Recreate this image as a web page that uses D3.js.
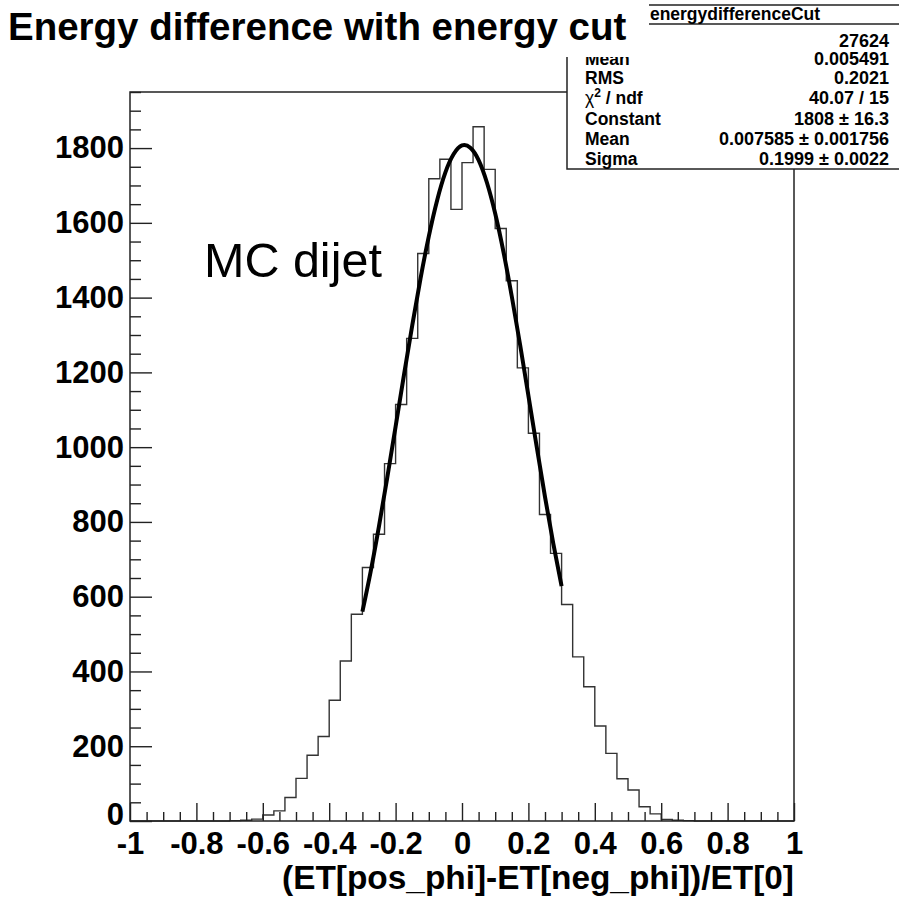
<!DOCTYPE html>
<html>
<head>
<meta charset="utf-8">
<script src="https://cdn.jsdelivr.net/npm/d3@7"></script>
<style>
  body { margin: 0; background: #fff; }
  svg { display: block; }
  text { font-family: "Liberation Sans", Arial, Helvetica, sans-serif; }
</style>
</head>
<body>
<div id="chart"></div>
<script>
const W = 899, H = 898;
const margin = {top: 92, right: 105, bottom: 77, left: 130};

// histogram definition: 60 bins from -1 to 1
const nBins = 60, xMin = -1, xMax = 1;
const counts = [0, 0, 0, 0, 0, 0, 0, 0, 0, 1,
    2, 5, 16, 27, 63, 114, 176, 226, 323, 428,
    553, 678, 767, 956, 1114, 1291, 1518, 1718, 1770, 1636,
    1761, 1857, 1743, 1585, 1445, 1212, 1037, 820, 716, 579,
    439, 359, 254, 181, 113, 83, 38, 19, 4, 2,
    1, 0, 0, 0, 0, 0, 0, 0, 0, 0];

// gaussian fit curve (-0.3 .. 0.3)
const fitX = [-0.3, -0.275, -0.25, -0.225, -0.2, -0.175, -0.15, -0.125, -0.1, -0.075, -0.05, -0.025, 0,
    0.025, 0.05, 0.075, 0.1, 0.125, 0.15, 0.175, 0.2, 0.225, 0.25, 0.275, 0.3];
const fitY = [560, 668, 789, 919, 1055, 1192, 1325, 1451, 1564, 1660, 1735, 1784, 1807,
    1801, 1768, 1708, 1625, 1522, 1403, 1274, 1138, 1001, 867, 742, 628];

const xTicks = [-1, -0.8, -0.6, -0.4, -0.2, 0, 0.2, 0.4, 0.6, 0.8, 1];
const xTickLabels = ["-1", "-0.8", "-0.6", "-0.4", "-0.2", "0", "0.2", "0.4", "0.6", "0.8", "1"];
const yTicks = [0, 200, 400, 600, 800, 1000, 1200, 1400, 1600, 1800];

const statsLabels = ["Entries", "Mean", "RMS", "chi", "Constant", "Mean", "Sigma"];
const statsValues = ["27624", "0.005491", "0.2021", "40.07 / 15", "1808 \u00b1 16.3", "0.007585 \u00b1 0.001756", "0.1999 \u00b1 0.0022"];

const svg = d3.select("#chart").append("svg")
    .attr("width", W)
    .attr("height", H);

const x = d3.scaleLinear()
    .domain([xMin, xMax])
    .range([margin.left, W - margin.right]);

const y = d3.scaleLinear()
    .domain([0, 1950])
    .range([H - margin.bottom, margin.top]);

const binW = (xMax - xMin) / nBins;
const steps = counts.map((c, i) => [xMin + i * binW, c]);
steps.push([xMax, counts[counts.length - 1]]);

// histogram outline
svg.append("path")
    .datum(steps)
    .attr("fill", "none")
    .attr("stroke", "#333")
    .attr("stroke-width", 1.4)
    .attr("d", d3.line()
        .x(d => x(d[0]))
        .y(d => y(d[1]))
        .curve(d3.curveStepAfter));

// fit
svg.append("path")
    .datum(fitX.map((v, i) => [v, fitY[i]]))
    .attr("fill", "none")
    .attr("stroke", "#000")
    .attr("stroke-width", 4)
    .attr("d", d3.line()
        .x(d => x(d[0]))
        .y(d => y(d[1]))
        .curve(d3.curveNatural));

// axes
const xMinor = d3.range(-1, 1.0001, 0.05).filter(v => Math.abs(Math.round(v * 5) - v * 5) > 1e-6);
const yMinor = d3.range(0, 1951, 50).filter(v => v % 200 !== 0);

function cleanAxis(g) {
    g.select(".domain").remove();
    g.selectAll("line").attr("stroke", "#222").attr("stroke-width", 1.4);
}

svg.append("g")
    .attr("transform", "translate(0," + y(0) + ")")
    .call(d3.axisBottom(x).tickValues(xMinor).tickSize(-9).tickFormat(""))
    .call(cleanAxis);

svg.append("g")
    .attr("transform", "translate(0," + y(0) + ")")
    .call(d3.axisBottom(x).tickValues(xTicks).tickSize(-18).tickPadding(11)
        .tickFormat((d, i) => xTickLabels[i]))
    .call(cleanAxis)
    .selectAll("text")
    .attr("fill", "#000")
    .attr("font-size", "31px")
    .attr("font-weight", "bold");

svg.append("g")
    .attr("transform", "translate(" + x(-1) + ",0)")
    .call(d3.axisLeft(y).tickValues(yMinor).tickSize(-11).tickFormat(""))
    .call(cleanAxis);

svg.append("g")
    .attr("transform", "translate(" + x(-1) + ",0)")
    .call(d3.axisLeft(y).tickValues(yTicks).tickSize(-22).tickPadding(6).tickFormat(d3.format("d")))
    .call(cleanAxis)
    .selectAll("text")
    .attr("fill", "#000")
    .attr("font-size", "31px")
    .attr("font-weight", "bold")
    .attr("dy", d => d === 0 ? "0.1em" : "0.32em");

// frame
svg.append("rect")
    .attr("x", x(-1))
    .attr("y", y(1950))
    .attr("width", x(1) - x(-1))
    .attr("height", y(0) - y(1950))
    .attr("fill", "none")
    .attr("stroke", "#222")
    .attr("stroke-width", 1.5);

// axis title
svg.append("text")
    .attr("x", x(1))
    .attr("y", 889)
    .attr("text-anchor", "end")
    .attr("font-size", "33.4px")
    .attr("font-weight", "bold")
    .text("(ET[pos_phi]-ET[neg_phi])/ET[0]");

// label
svg.append("text")
    .attr("x", 204)
    .attr("y", 277)
    .attr("font-size", "48.5px")
    .text("MC dijet");

// stats box
const stats = svg.append("g");
stats.append("rect")
    .attr("x", 567)
    .attr("y", 5)
    .attr("width", 340)
    .attr("height", 164)
    .attr("fill", "#fff")
    .attr("stroke", "#222")
    .attr("stroke-width", 1.5);
stats.append("line")
    .attr("x1", 567).attr("x2", 907)
    .attr("y1", 24).attr("y2", 24)
    .attr("stroke", "#222")
    .attr("stroke-width", 1.5);
stats.append("text")
    .attr("x", 735)
    .attr("y", 20)
    .attr("text-anchor", "middle")
    .attr("font-size", "17.5px")
    .attr("font-weight", "bold")
    .text("energydifferenceCut");

const rowY = [46.5, 64.5, 83.5, 104, 124.5, 145, 165];
statsLabels.forEach(function(lab, i) {
    const t = stats.append("text")
        .attr("x", 585)
        .attr("y", rowY[i])
        .attr("font-size", "17.5px")
        .attr("font-weight", "bold");
    if (lab === "chi") {
        t.append("tspan").attr("font-weight", "normal").text("\u03c7");
        t.append("tspan").attr("font-size", "12px").attr("dy", -7).text("2");
        t.append("tspan").attr("dy", 7).text(" / ndf");
    } else {
        t.text(lab);
    }
    stats.append("text")
        .attr("x", 889)
        .attr("y", rowY[i])
        .attr("text-anchor", "end")
        .attr("font-size", "18px")
        .attr("font-weight", "bold")
        .text(statsValues[i]);
});

// title box, drawn over the stats box
svg.append("rect")
    .attr("x", 0)
    .attr("y", 0)
    .attr("width", 649)
    .attr("height", 57)
    .attr("fill", "#fff");
svg.append("text")
    .attr("x", 8)
    .attr("y", 40)
    .attr("font-size", "38.5px")
    .attr("font-weight", "bold")
    .text("Energy difference with energy cut");
</script>
</body>
</html>
